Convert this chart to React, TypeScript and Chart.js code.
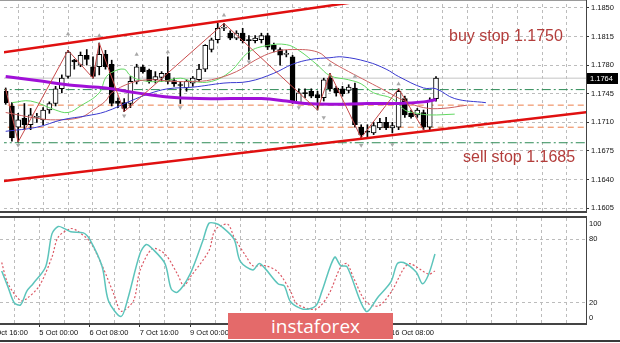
import React, { useEffect, useRef } from 'react';
import { Chart, registerables } from 'chart.js';

Chart.register(...registerables);

const FONT = "'Liberation Sans', Arial, sans-serif";

// H4 candles, index 0 = 2 Oct 00:00
const candleOpen = [1.1748, 1.173, 1.1704, 1.1715, 1.1707, 1.1716, 1.1713, 1.1725, 1.1733, 1.1751, 1.1766, 1.1786, 1.178, 1.1792, 1.1778, 1.1778, 1.1793, 1.1781, 1.1736, 1.1734, 1.1733, 1.176, 1.1778, 1.1774, 1.1762, 1.1765, 1.177, 1.1761, 1.1756, 1.1752, 1.1758, 1.1762, 1.1775, 1.1799, 1.1811, 1.1825, 1.1819, 1.1813, 1.1819, 1.1811, 1.181, 1.1811, 1.1816, 1.1804, 1.1799, 1.1793, 1.179, 1.1734, 1.1746, 1.1748, 1.1744, 1.174, 1.1764, 1.1752, 1.1751, 1.1749, 1.1752, 1.1704, 1.1699, 1.1697, 1.1703, 1.171, 1.1703, 1.1704, 1.1739, 1.1721, 1.1719, 1.1722, 1.1704, 1.1739];
const candleHigh = [1.1752, 1.1734, 1.1721, 1.1733, 1.1727, 1.1721, 1.1728, 1.1735, 1.1754, 1.1768, 1.1798, 1.1787, 1.1796, 1.1799, 1.179, 1.1807, 1.1798, 1.1786, 1.174, 1.1739, 1.1766, 1.1781, 1.178, 1.1775, 1.1772, 1.1772, 1.179, 1.1764, 1.176, 1.1762, 1.1766, 1.1781, 1.1805, 1.1813, 1.1831, 1.1831, 1.1822, 1.1822, 1.1825, 1.1816, 1.1816, 1.1819, 1.1819, 1.1807, 1.1801, 1.1798, 1.1792, 1.1751, 1.1751, 1.1751, 1.1748, 1.1764, 1.177, 1.1754, 1.1754, 1.1756, 1.1758, 1.1707, 1.1707, 1.171, 1.1715, 1.1716, 1.171, 1.1751, 1.1742, 1.1725, 1.1727, 1.1725, 1.174, 1.1766];
const candleLow = [1.1732, 1.1687, 1.1686, 1.1701, 1.1701, 1.171, 1.1707, 1.1721, 1.173, 1.1746, 1.1764, 1.1775, 1.1778, 1.178, 1.1764, 1.1768, 1.1775, 1.173, 1.1728, 1.1723, 1.1728, 1.1757, 1.177, 1.1758, 1.1758, 1.176, 1.1757, 1.1754, 1.1733, 1.1748, 1.1754, 1.176, 1.1772, 1.1796, 1.1807, 1.1822, 1.1811, 1.1811, 1.1807, 1.1787, 1.1807, 1.1807, 1.1799, 1.1796, 1.178, 1.179, 1.1733, 1.1733, 1.174, 1.174, 1.1725, 1.1736, 1.1748, 1.1742, 1.1742, 1.1746, 1.1704, 1.1691, 1.1691, 1.1695, 1.1701, 1.1701, 1.1697, 1.1701, 1.1716, 1.1715, 1.1716, 1.1701, 1.1701, 1.1736];
const candleClose = [1.1734, 1.1691, 1.1713, 1.1707, 1.1719, 1.1717, 1.1725, 1.1733, 1.1751, 1.1764, 1.1796, 1.1784, 1.1792, 1.1787, 1.1766, 1.1793, 1.1778, 1.1733, 1.1733, 1.1727, 1.176, 1.1778, 1.1772, 1.176, 1.1766, 1.177, 1.176, 1.1757, 1.1755, 1.176, 1.1764, 1.1775, 1.1804, 1.1811, 1.1825, 1.1826, 1.1813, 1.1819, 1.181, 1.181, 1.1813, 1.1816, 1.1802, 1.1799, 1.1792, 1.1793, 1.1734, 1.1746, 1.1745, 1.1742, 1.174, 1.1762, 1.1751, 1.1746, 1.1745, 1.1753, 1.1707, 1.1695, 1.1698, 1.1706, 1.171, 1.1703, 1.1706, 1.1748, 1.1719, 1.1717, 1.1725, 1.1704, 1.1736, 1.1764];

// indicator lines: [candle index, price]
const slowMaPurple = [[0, 1.1766], [5, 1.1761], [11, 1.1755], [16, 1.1752], [21, 1.1746], [26, 1.1741], [31, 1.1739], [36, 1.1739], [41, 1.1739], [45, 1.1736], [48, 1.1733], [52, 1.1732], [58, 1.1733], [63, 1.1733], [67, 1.1735], [69, 1.1738]];
const jawBlue = [[0, 1.1699], [5, 1.1704], [9, 1.1713], [13, 1.1718], [16, 1.1723], [20, 1.1736], [23, 1.1745], [26, 1.1751], [30, 1.1753], [35, 1.1758], [39, 1.176], [43, 1.177], [46, 1.1781], [49, 1.1787], [52, 1.1789], [54, 1.179], [58, 1.1784], [61, 1.1775], [63, 1.1766], [67, 1.1752], [69, 1.1751], [72, 1.1739], [77, 1.1734]];
const teethRed = [[0, 1.1722], [5, 1.1715], [8, 1.1713], [12, 1.1716], [14, 1.1725], [16, 1.1736], [17, 1.1746], [20, 1.1758], [23, 1.1762], [27, 1.176], [30, 1.176], [33, 1.1762], [37, 1.1772], [40, 1.1786], [43, 1.1796], [46, 1.1799], [50, 1.1796], [52, 1.1785], [55, 1.1772], [58, 1.176], [61, 1.1748], [64, 1.1736], [67, 1.1728], [70, 1.1727], [74, 1.1731]];
const lipsGreen = [[1, 1.1734], [4, 1.1736], [8, 1.1725], [10, 1.1722], [12, 1.173], [15, 1.1746], [16, 1.1764], [17, 1.1771], [19, 1.1775], [20, 1.1767], [22, 1.1761], [25, 1.176], [28, 1.1764], [30, 1.176], [33, 1.176], [36, 1.1772], [39, 1.1796], [42, 1.1804], [45, 1.1805], [47, 1.1798], [50, 1.178], [52, 1.1767], [55, 1.1762], [57, 1.1757], [59, 1.1746], [62, 1.1739], [64, 1.1725], [66, 1.1721], [68, 1.1719], [72, 1.172]];
const zigzag = [[0, 1.1751], [2, 1.1686], [10, 1.1798], [14, 1.1764], [15, 1.1807], [19, 1.1723], [35, 1.1831], [50, 1.1725], [52, 1.177], [57, 1.1691], [63, 1.1751], [67, 1.1701]];
const fractalsUp = [[10, 1.1818], [15, 1.1816], [21, 1.1793], [26, 1.1796], [35, 1.1841], [52, 1.178], [56, 1.1766], [63, 1.1757]];
const fractalsDown = [[2, 1.1682], [19, 1.1718], [28, 1.1728], [39, 1.1784], [47, 1.1728], [51, 1.1716], [57, 1.1682], [62, 1.1683]];

// channel lines: [candle index, price]
const channelUpper = [[-1, 1.17948], [60, 1.18615]];
const channelLower = [[-1, 1.16375], [95, 1.17241]];

const BUY_STOP = 1.175;
const SELL_STOP = 1.1685;
const orangeLevels = [1.1731, 1.1704];
const LAST_PRICE = 1.1764;

// stochastic: [candle index, value]
const stochK = [[0, 50], [1, 35], [2, 20], [3, 18], [4, 31], [5, 38], [7, 54], [8, 85], [9, 92], [10, 90], [11, 87], [13, 86], [14, 80], [16, 54], [17, 22], [19, 7], [20, 22], [22, 66], [23, 75], [24, 71], [26, 57], [27, 33], [28, 30], [30, 47], [32, 78], [33, 95], [34, 95], [35, 92], [37, 80], [38, 59], [40, 51], [41, 57], [42, 52], [44, 38], [45, 36], [46, 21], [48, 14], [50, 17], [51, 31], [53, 63], [54, 55], [55, 54], [58, 12], [60, 26], [62, 40], [63, 57], [64, 58], [66, 49], [67, 38], [68, 47], [69, 66]];
const stochD = [[0, 58], [1, 38], [3, 22], [4, 24], [6, 36], [8, 63], [9, 82], [11, 90], [12, 88], [14, 78], [16, 55], [18, 26], [19, 12], [21, 22], [22, 50], [24, 71], [26, 66], [28, 47], [29, 36], [30, 44], [33, 69], [34, 89], [36, 94], [37, 82], [39, 63], [40, 55], [42, 55], [44, 49], [46, 31], [47, 19], [50, 14], [52, 27], [54, 54], [55, 57], [56, 44], [58, 21], [60, 17], [62, 30], [64, 52], [65, 57], [68, 47], [69, 50]];

const X_MIN = -0.27;
const X_MAX = 93.05;
const PRICE_MIN = 1.16003;
const PRICE_MAX = 1.18547;
const priceTicks = [1.1605, 1.164, 1.1675, 1.171, 1.1745, 1.178, 1.1815, 1.185];
const gridTicks = [-2, 2, 6, 10, 14, 18, 22, 26, 30, 34, 38, 42, 46, 50, 54, 58, 62, 66, 70, 74, 78, 82, 86, 90];
const timeTickIndex = [-2, 6, 14, 22, 30, 38, 46, 54, 62];
const timeTickLabels = ['1 Oct 16:00', '5 Oct 00:00', '6 Oct 08:00', '7 Oct 16:00', '9 Oct 00:00', '12 Oct 08:00', '13 Oct 16:00', '15 Oct 00:00', '16 Oct 08:00'];
const stochTicks = [0, 20, 80, 100];
const stochLevels = [20, 80];

const GRID = '#bcbcbc';

const pts = (arr: number[][]) => arr.map(([x, y]) => ({ x, y }));
const hLine = (v: number) => [{ x: X_MIN - 1, y: v }, { x: X_MAX + 1, y: v }];

const lineDs = (data: any, color: string, width: number, order: number, extra: any = {}) => ({
  type: 'line',
  data,
  borderColor: color,
  borderWidth: width,
  pointRadius: 0,
  fill: false,
  order,
  ...extra,
});

function mainConfig(): any {
  const idx = candleOpen.map((_, i) => i);
  return {
    type: 'bar',
    data: {
      datasets: [
        lineDs(hLine(LAST_PRICE), '#c4c4c4', 1, 50),
        lineDs(hLine(BUY_STOP), '#2e8b57', 1, 49, { borderDash: [9, 3, 2, 3] }),
        lineDs(hLine(SELL_STOP), '#2e8b57', 1, 49, { borderDash: [9, 3, 2, 3] }),
        lineDs(hLine(orangeLevels[0]), '#ec7f4a', 1, 49, { borderDash: [6, 4] }),
        lineDs(hLine(orangeLevels[1]), '#ec7f4a', 1, 49, { borderDash: [6, 4] }),
        {
          type: 'bar',
          data: idx.map((i) => ({ x: i, y: [candleLow[i], candleHigh[i]] })),
          backgroundColor: '#000',
          borderWidth: 0,
          barThickness: 1,
          grouped: false,
          order: 40,
        },
        {
          type: 'bar',
          data: idx.map((i) => ({ x: i, y: [candleOpen[i], candleClose[i]] })),
          backgroundColor: idx.map((i) => (candleClose[i] >= candleOpen[i] ? '#ffffff' : '#000000')),
          borderColor: '#000',
          borderWidth: 1,
          borderSkipped: false,
          barThickness: 5,
          minBarLength: 1,
          grouped: false,
          order: 39,
        },
        lineDs(pts(slowMaPurple), '#a010d8', 3, 20, { tension: 0.4 }),
        lineDs(pts(jawBlue), '#3a3ad0', 1, 21, { tension: 0.4 }),
        lineDs(pts(teethRed), '#cc6060', 1, 21, { tension: 0.4 }),
        lineDs(pts(lipsGreen), '#62d862', 1, 21, { tension: 0.4 }),
        lineDs(pts(zigzag), '#c84a4a', 1, 10),
        lineDs(pts(channelUpper), '#e01010', 2.5, 5),
        lineDs(pts(channelLower), '#e01010', 2.5, 5),
        {
          type: 'line',
          data: pts(fractalsUp),
          showLine: false,
          pointStyle: 'triangle',
          pointRadius: 2.5,
          pointBackgroundColor: '#a8a8a8',
          pointBorderWidth: 0,
          order: 4,
        },
        {
          type: 'line',
          data: pts(fractalsDown),
          showLine: false,
          pointStyle: 'triangle',
          pointRotation: 180,
          pointRadius: 2.5,
          pointBackgroundColor: '#a8a8a8',
          pointBorderWidth: 0,
          order: 4,
        },
      ],
    },
    options: {
      responsive: false,
      animation: false,
      events: [],
      layout: { padding: { top: 0, left: 0, right: 0, bottom: 1 } },
      plugins: { legend: { display: false }, tooltip: { enabled: false } },
      scales: {
        x: {
          type: 'linear',
          min: X_MIN,
          max: X_MAX,
          offset: false,
          afterBuildTicks: (s: any) => { s.ticks = gridTicks.map((v) => ({ value: v })); },
          afterFit: (s: any) => { s.height = 0; s.paddingLeft = 0; s.paddingRight = 0; },
          ticks: { display: false },
          grid: { color: GRID, drawTicks: false, offset: false },
          border: { display: false, dash: [3, 3] },
        },
        y: {
          type: 'linear',
          position: 'right',
          min: PRICE_MIN,
          max: PRICE_MAX,
          afterBuildTicks: (s: any) => { s.ticks = priceTicks.map((v) => ({ value: v })); },
          afterFit: (s: any) => { s.width = 34; s.paddingTop = 0; s.paddingBottom = 0; },
          ticks: {
            callback: (v: number) => v.toFixed(4),
            font: { family: FONT, size: 7.5 },
            color: '#111',
            padding: 2,
          },
          grid: { color: GRID, tickColor: '#333', tickLength: 3, drawTicks: true },
          border: { display: false, dash: [3, 3] },
        },
      },
    },
    plugins: [
      {
        id: 'mainFrame',
        afterDraw(chart: any) {
          const { ctx, chartArea: a } = chart;
          ctx.save();
          ctx.fillStyle = '#9a9a9a';
          ctx.fillRect(0, 0, a.right, 1);
          ctx.fillStyle = '#444';
          ctx.fillRect(Math.round(a.right), 0, 1, a.bottom);
          ctx.fillRect(0, Math.round(a.bottom) - 1, Math.round(a.right) + 1, 2);
          const y = chart.scales.y.getPixelForValue(LAST_PRICE);
          ctx.fillStyle = '#000';
          ctx.fillRect(Math.round(a.right) + 1, Math.round(y) - 5, 31, 11);
          ctx.fillStyle = '#fff';
          ctx.font = `7.5px ${FONT}`;
          ctx.textBaseline = 'middle';
          ctx.textAlign = 'left';
          ctx.fillText(LAST_PRICE.toFixed(4), Math.round(a.right) + 4, Math.round(y) + 0.5);
          ctx.restore();
        },
      },
    ],
  };
}

function stochConfig(): any {
  return {
    type: 'line',
    data: {
      datasets: [
        lineDs(pts(stochD), '#dc5a66', 1.2, 2, { borderDash: [2, 2], tension: 0.3 }),
        lineDs(pts(stochK), '#5cc4bb', 1.5, 1, { tension: 0.3 }),
      ],
    },
    options: {
      responsive: false,
      animation: false,
      events: [],
      layout: { padding: { top: 2, left: 0, right: 0, bottom: 0 } },
      plugins: { legend: { display: false }, tooltip: { enabled: false } },
      scales: {
        x: {
          type: 'linear',
          min: X_MIN,
          max: X_MAX,
          offset: false,
          afterBuildTicks: (s: any) => { s.ticks = gridTicks.map((v) => ({ value: v })); },
          afterFit: (s: any) => { s.height = 19; s.paddingLeft = 0; s.paddingRight = 0; },
          ticks: {
            autoSkip: false,
            maxRotation: 0,
            minRotation: 0,
            align: 'start',
            padding: 1,
            font: { family: FONT, size: 7.5 },
            color: '#111',
            callback: (v: number) => {
              const k = timeTickIndex.indexOf(v);
              return k >= 0 ? timeTickLabels[k] : '';
            },
          },
          grid: {
            color: GRID,
            drawTicks: true,
            tickLength: 3,
            tickColor: (c: any) => (c.tick && timeTickIndex.indexOf(c.tick.value) >= 0 ? '#333' : 'rgba(0,0,0,0)'),
            offset: false,
          },
          border: { display: false, dash: [3, 3] },
        },
        y: {
          type: 'linear',
          position: 'right',
          min: 0,
          max: 100,
          afterBuildTicks: (s: any) => { s.ticks = stochTicks.map((v) => ({ value: v })); },
          afterFit: (s: any) => { s.width = 34; s.paddingTop = 0; s.paddingBottom = 0; },
          ticks: {
            callback: (v: number) => (stochLevels.indexOf(v) >= 0 ? String(v) : ''),
            font: { family: FONT, size: 7.5 },
            color: '#111',
            padding: 3,
          },
          grid: {
            color: (c: any) => (c.tick && stochLevels.indexOf(c.tick.value) >= 0 ? GRID : 'rgba(0,0,0,0)'),
            drawTicks: false,
          },
          border: { display: false, dash: [3, 3] },
        },
      },
    },
    plugins: [
      {
        id: 'stochFrame',
        afterDraw(chart: any) {
          const { ctx, chartArea: a } = chart;
          const ys = chart.scales.y;
          ctx.save();
          ctx.fillStyle = '#444';
          ctx.fillRect(0, Math.round(a.top) - 2, Math.round(a.right) + 1, 2);
          ctx.fillRect(Math.round(a.right), 0, 1, Math.round(a.bottom));
          ctx.fillRect(0, Math.round(a.bottom) - 1, Math.round(a.right) + 1, 2);
          ctx.fillStyle = '#111';
          ctx.font = `7.5px ${FONT}`;
          ctx.textBaseline = 'middle';
          ctx.textAlign = 'left';
          ctx.fillText(String(stochTicks[3]), Math.round(a.right) + 3, ys.getPixelForValue(stochTicks[3]) + 6);
          ctx.fillText(String(stochTicks[0]), Math.round(a.right) + 3, ys.getPixelForValue(stochTicks[0]) - 6);
          ctx.restore();
        },
      },
    ],
  };
}

export default function App() {
  const mainRef = useRef<HTMLCanvasElement>(null);
  const stochRef = useRef<HTMLCanvasElement>(null);

  useEffect(() => {
    const c1 = new Chart(mainRef.current as HTMLCanvasElement, mainConfig());
    const c2 = new Chart(stochRef.current as HTMLCanvasElement, stochConfig());
    return () => {
      c1.destroy();
      c2.destroy();
    };
  }, []);

  const note: React.CSSProperties = {
    position: 'absolute',
    fontFamily: FONT,
    fontSize: 16,
    lineHeight: '16px',
    color: '#b33d3b',
    whiteSpace: 'nowrap',
  };

  return (
    <div style={{ position: 'fixed', left: 0, top: 0, width: 620, height: 343, background: '#fff', overflow: 'hidden' }}>
      <canvas ref={mainRef} width={620} height={216} style={{ position: 'absolute', left: 0, top: 0 }} />
      <canvas ref={stochRef} width={620} height={127} style={{ position: 'absolute', left: 0, top: 216 }} />
      <div style={{ ...note, left: 449, top: 28 }}>buy stop 1.1750</div>
      <div style={{ ...note, left: 463, top: 149 }}>sell stop 1.1685</div>
      <div
        style={{
          position: 'absolute',
          left: 228,
          top: 313,
          width: 165,
          height: 26,
          background: '#e46a6a',
          color: '#fff',
          fontFamily: "'Open Sans', sans-serif",
          fontSize: 19,
          lineHeight: '26px',
          textAlign: 'center',
          paddingLeft: 10,
          boxSizing: 'border-box',
        }}
      >
        instaforex
      </div>
      <div style={{ position: 'absolute', left: 0, top: 340, width: 620, height: 2, background: '#3a3a3a' }} />
    </div>
  );
}
